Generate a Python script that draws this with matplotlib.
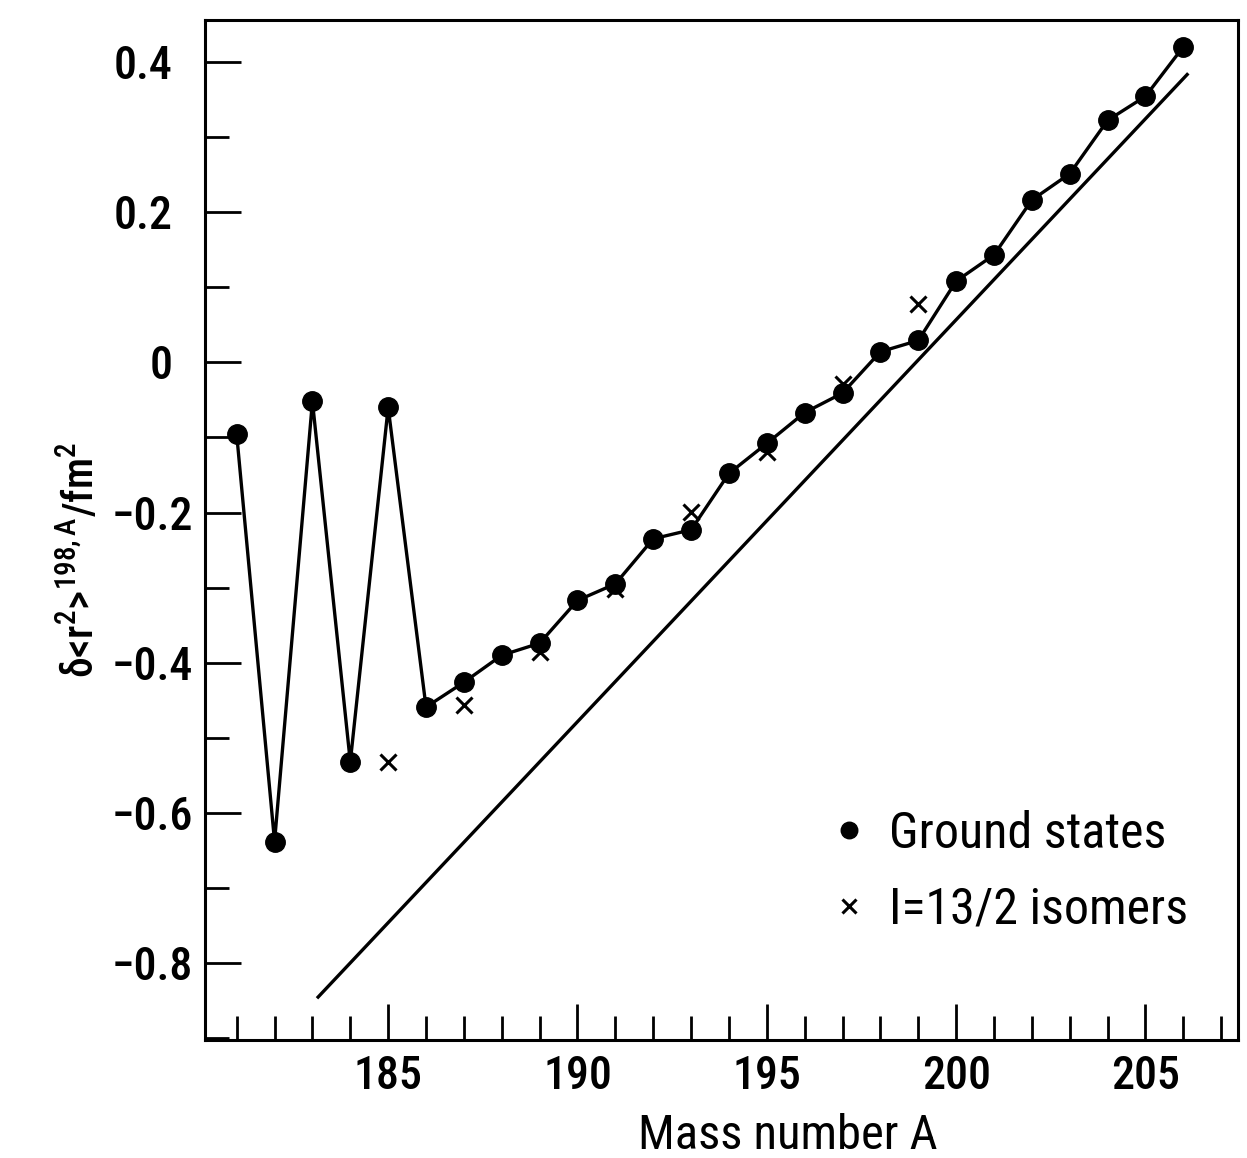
## plot.py
# mean square charge radii changes, Hg isotopes (Ground states / 13/2 isomers)

import matplotlib
matplotlib.use("Agg")
import matplotlib.pyplot as plt
from matplotlib.ticker import MultipleLocator
from matplotlib.transforms import ScaledTranslation

## data
# ground states
mass_gs = [181, 182, 183, 184, 185, 186, 187, 188, 189, 190, 191, 192, 193,
           194, 195, 196, 197, 198, 199, 200, 201, 202, 203, 204, 205, 206]
dr2_gs = [-0.096, -0.638, -0.052, -0.532, -0.060, -0.459, -0.426, -0.390,
          -0.374, -0.317, -0.295, -0.235, -0.223, -0.148, -0.108, -0.067,
          -0.041, 0.014, 0.029, 0.108, 0.143, 0.216, 0.251, 0.322, 0.354, 0.420]

# I=13/2 isomers
mass_iso = [185, 187, 189, 191, 193, 195, 197, 199]
dr2_iso = [-0.532, -0.456, -0.386, -0.302, -0.199, -0.120, -0.029, 0.078]

# straight reference line (end points)
mass_line = [183.15, 206.1]
dr2_line = [-0.845, 0.383]

FONT = ['Roboto Condensed', 'Liberation Sans Narrow', 'DejaVu Sans']
plt.rcParams['font.family'] = FONT
plt.rcParams['mathtext.fontset'] = 'custom'
plt.rcParams['mathtext.rm'] = 'Roboto Condensed:medium'
plt.rcParams['mathtext.it'] = 'Roboto Condensed:medium'


def plot_chart():
	fig = plt.figure(figsize=(12.47, 11.58), dpi=100)
	ax = fig.add_axes([0.164, 0.102, 0.829, 0.881])

	# line through ground states + markers
	ax.plot(mass_gs, dr2_gs, '-', color='black', linewidth=2.4, zorder=2)
	ax.plot(mass_gs, dr2_gs, 'o', color='black', markersize=14, zorder=3,
			label='Ground states')
	ax.plot(mass_iso, dr2_iso, 'x', color='black', markersize=12,
			markeredgewidth=2.2, zorder=4, label='I=13/2 isomers')
	ax.plot(mass_line, dr2_line, '-', color='black', linewidth=2.4, zorder=1)

	ax.set_xlim(180.15, 207.45)
	ax.set_ylim(-0.902, 0.456)

	ax.xaxis.set_major_locator(MultipleLocator(5))
	ax.xaxis.set_minor_locator(MultipleLocator(1))
	ax.yaxis.set_major_locator(MultipleLocator(0.2))
	ax.yaxis.set_minor_locator(MultipleLocator(0.1))
	ax.xaxis.set_major_formatter(lambda v, p: '{:d}'.format(int(round(v))))
	ax.yaxis.set_major_formatter(
		lambda v, p: '0' if abs(v) < 1e-9 else '{:.1f}'.format(v).replace('-', '\u2212'))

	ax.tick_params(which='both', direction='in', top=False, right=False,
				   width=2, labelsize=33)
	ax.tick_params(axis='x', pad=11)
	ax.tick_params(axis='y', pad=8)
	ax.tick_params(which='major', length=26)
	ax.tick_params(which='minor', length=17)
	for lab in ax.get_xticklabels() + ax.get_yticklabels():
		lab.set_fontweight('medium')
	for s in ax.spines.values():
		s.set_linewidth(2.2)

	# positive y labels sit further from the axis in the original
	shift = ScaledTranslation(-0.21, 0, fig.dpi_scale_trans)
	for tk in ax.yaxis.get_major_ticks():
		if tk.get_loc() > -1e-9:
			tk.label1.set_transform(tk.label1.get_transform() + shift)

	ax.set_xlabel('Mass number A', fontsize=35)
	ax.xaxis.set_label_coords(0.564, -0.072)
	ax.set_ylabel(r'$\delta$<r$^2$>$^{198,A}$/fm$^2$', fontsize=30,
				  fontweight='medium')
	ax.yaxis.set_label_coords(-0.098, 0.47)

	ax.legend(loc='lower right', bbox_to_anchor=(0.995, 0.06), frameon=False,
			  fontsize=36, handletextpad=0.3, labelspacing=0.56,
			  markerscale=0.85, handlelength=1.0)

	fig.savefig('out.png', dpi=100)
	return


if __name__ == '__main__':
	plot_chart()
